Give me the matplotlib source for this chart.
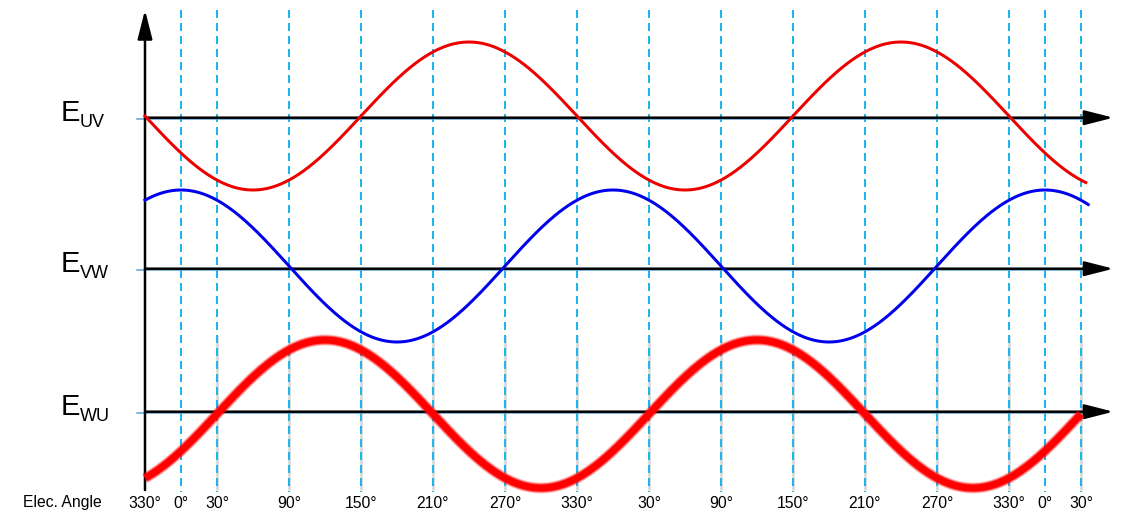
import numpy as np
import matplotlib.pyplot as plt

plt.rcParams['font.family'] = ['Liberation Sans', 'DejaVu Sans']

# -----------------------------
# DADOS
# -----------------------------
# angulo eletrico "desenrolado": -30 = 330°, 0 = 0°, ... 750 = 30° do 3o ciclo
tick_angles = [-30, 0, 30, 90, 150, 210, 270, 330, 390, 450, 510, 570, 630, 690, 720, 750]
tick_labels = ["330°", "0°", "30°", "90°", "150°", "210°", "270°", "330°",
               "30°", "90°", "150°", "210°", "270°", "330°", "0°", "30°"]
grey_angles = [30, 90, 150, 210, 270, 330, 390, 450, 510, 570, 630, 690, 750]

names = ["UV", "VW", "WU"]
axis_y = [118, 269, 412]          # linha de referencia de cada tensao (px)
center_y = [116, 266, 414]        # centro da senoide (px)
amplitude = [74, 76, 74]          # amplitude (px)
phase = [210, 90, -30]            # fase em graus
angle_end = [754, 756, 750]       # onde cada curva termina

# -----------------------------
# FIGURA
# -----------------------------
fig = plt.figure(figsize=(11.25, 5.12), dpi=100)
ax = fig.add_axes([0, 0, 1, 1])
# 1 px = 1/1.2 grau; x=145 px corresponde a -30
ax.set_xlim((0 - 145) / 1.2 - 30, (1125 - 145) / 1.2 - 30)
ax.set_ylim(512, 0)
ax.axis('off')

px = 0.72  # pontos por pixel

# linhas cinzas atras da curva grossa
ax.vlines(grey_angles, 335, 490, color='#dcdcdc', lw=3 * px, zorder=1)

# linhas tracejadas
ax.vlines(tick_angles[1:], 10, 492, color='#1eb4f0', lw=2 * px,
          linestyles=(0, (4, 2.5)), zorder=2)

# eixos horizontais
for y in axis_y:
    ax.plot([-36.7, 752], [y + 1.2, y + 1.2], color='#5a9fd0', lw=1.5 * px, zorder=3)
    ax.annotate('', xy=(777, y - 0.3), xytext=(-30, y - 0.3),
                arrowprops=dict(arrowstyle='-|>,head_length=1.1,head_width=0.28',
                                color='black', lw=2.5 * px, mutation_scale=16,
                                shrinkA=0, shrinkB=0), zorder=4)

# eixo vertical
ax.annotate('', xy=(-30, 10), xytext=(-30, 490),
            arrowprops=dict(arrowstyle='-|>,head_length=1.1,head_width=0.28',
                            color='black', lw=2.5 * px, mutation_scale=16,
                            shrinkA=0, shrinkB=0), zorder=4)

# curvas
for i in range(3):
    th = np.linspace(-30, angle_end[i], 800)
    y = center_y[i] - amplitude[i] * np.sin(np.radians(th + phase[i]))
    if names[i] == "UV":
        ax.plot(th, y, color='#ee0000', lw=3 * px, zorder=5)
    elif names[i] == "VW":
        ax.plot(th, y, color='#0000ee', lw=3 * px, zorder=5)
    else:
        ax.plot(th, y, color='#ff0000', lw=11 * px, alpha=0.25, zorder=5,
                solid_capstyle='butt')
        ax.plot(th, y, color='#ff0000', lw=9 * px, alpha=0.5, zorder=5,
                solid_capstyle='butt')
        ax.plot(th, y, color='#ff0000', lw=7 * px, zorder=5,
                solid_capstyle='butt')

# rotulos E_xx
for i in range(3):
    ax.text((61 - 145) / 1.2 - 30, axis_y[i] + 3, "E", fontsize=21,
            ha='left', va='baseline')
    ax.text((80 - 145) / 1.2 - 30, axis_y[i] + 9, names[i], fontsize=13,
            ha='left', va='baseline')

# angulos
for a, lab in zip(tick_angles, tick_labels):
    ax.text(a, 503, lab, fontsize=11.3, ha='center', va='center')
ax.text((62 - 145) / 1.2 - 30, 503, "Elec. Angle", fontsize=11.3,
        ha='center', va='center')

plt.savefig("out.png", dpi=100)
